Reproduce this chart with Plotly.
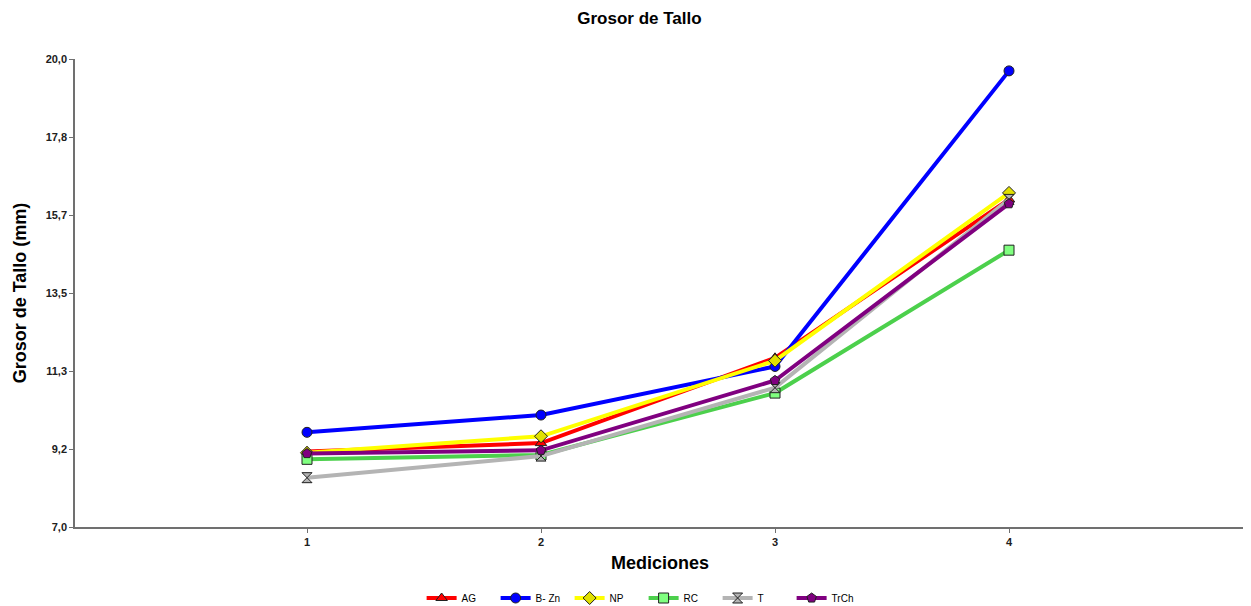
import plotly.graph_objects as go

mediciones = [1, 2, 3, 4]
ag = [9.10, 9.33, 11.70, 16.10]
b_zn = [9.63, 10.11, 11.46, 19.67]
np_vals = [9.06, 9.52, 11.62, 16.28]
rc = [8.88, 9.00, 10.72, 14.69]
t_vals = [8.37, 8.97, 10.87, 16.10]
trch = [9.04, 9.13, 11.07, 15.98]

y_ticks = [7.0, 9.1667, 11.3333, 13.5, 15.6667, 17.8333, 20.0]
y_tick_labels = ["7,0", "9,2", "11,3", "13,5", "15,7", "17,8", "20,0"]
x_ticks = [1, 2, 3, 4]

series = [
    ("AG", ag, "#FF0000", "#FF0000", "triangle-up"),
    ("B- Zn", b_zn, "#0000FF", "#0000FF", "circle"),
    ("NP", np_vals, "#FFFF00", "#E0E000", "diamond"),
    ("RC", rc, "#4CD04C", "#80FF80", "square"),
    ("T", t_vals, "#B4B4B4", "#B4B4B4", "hourglass"),
    ("TrCh", trch, "#800080", "#800080", "pentagon"),
]

fig = go.Figure()
for name, vals, lc, mc, sym in series:
    fig.add_trace(go.Scatter(
        x=mediciones, y=vals, name=name, mode="lines+markers",
        line=dict(color=lc, width=4),
        marker=dict(symbol=sym, size=10, color=mc,
                    line=dict(color="#202020", width=1)),
    ))

tickfont = dict(family="Liberation Sans, Arial", size=11, color="#202020", weight="bold")

W, H = 1243, 598

fig.update_layout(
    width=W, height=H,
    paper_bgcolor="white", plot_bgcolor="white",
    margin=dict(l=67, r=6, t=51, b=79, autoexpand=False),
    title=dict(text="<b>Grosor de Tallo</b>", x=0.508, xanchor="center",
               xref="container", yref="container", y=1 - 10 / H, yanchor="middle",
               font=dict(family="Liberation Sans, Arial", size=17, color="black")),
    xaxis=dict(range=[0.0085, 5.0085], tickvals=x_ticks, ticktext=[str(v) for v in x_ticks],
               showgrid=False, zeroline=False, showline=True, linecolor="#707070",
               linewidth=1.5, ticks="outside", ticklen=4, tickcolor="#707070",
               tickfont=tickfont, automargin=False,
               title=dict(text="<b>Mediciones</b>", standoff=9,
                          font=dict(family="Liberation Sans, Arial", size=18, color="black"))),
    yaxis=dict(range=[7, 20], tickvals=y_ticks, ticktext=y_tick_labels,
               showgrid=False, zeroline=False, showline=True, linecolor="#707070",
               linewidth=1.5, ticks="outside", ticklen=4, tickcolor="#707070",
               tickfont=tickfont, automargin=False,
               title=dict(text="<b>Grosor de Tallo (mm)</b>", standoff=14,
                          font=dict(family="Liberation Sans, Arial", size=18, color="black"))),
    legend=dict(orientation="h", x=0.486, xanchor="center",
                yref="container", y=8 / H, yanchor="middle",
                entrywidth=29, entrywidthmode="pixels", itemwidth=30,
                font=dict(family="Liberation Sans, Arial", size=10, color="black")),
)

fig.write_html("out.html")
